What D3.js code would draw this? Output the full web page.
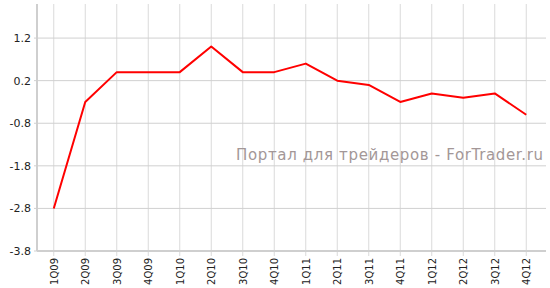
<!DOCTYPE html>
<html>
<head>
<meta charset="utf-8">
<script src="https://cdn.jsdelivr.net/npm/d3@7"></script>
<style>
  body { margin: 0; background: #fff; }
  text { font-family: "DejaVu Sans", Verdana, sans-serif; }
</style>
</head>
<body>
<div id="chart"></div>
<script>
// quarters and values
const quarters = ['1Q09', '2Q09', '3Q09', '4Q09', '1Q10', '2Q10', '3Q10', '4Q10',
  '1Q11', '2Q11', '3Q11', '4Q11', '1Q12', '2Q12', '3Q12', '4Q12'];
const values = [-2.8, -0.3, 0.4, 0.4, 0.4, 1.0, 0.4, 0.4,
  0.6, 0.2, 0.1, -0.3, -0.1, -0.2, -0.1, -0.6];
const yTicks = [-3.8, -2.8, -1.8, -0.8, 0.2, 1.2];

const width = 550, height = 288;
const plotLeft = 38, plotRight = 542, plotTop = 4, plotBottom = 251;

const svg = d3.select('#chart').append('svg')
  .attr('width', width)
  .attr('height', height);

const x = d3.scalePoint().domain(quarters).range([plotLeft, plotRight]).padding(0.5);
const y = d3.scaleLinear().domain([-3.8, 2.0]).range([plotBottom, plotTop]);

// grid
svg.append('g')
  .selectAll('line')
  .data(quarters)
  .enter().append('line')
  .attr('x1', d => x(d)).attr('x2', d => x(d))
  .attr('y1', plotTop).attr('y2', plotBottom + 5)
  .attr('stroke', '#dadada')
  .attr('stroke-width', 1);

svg.append('g')
  .selectAll('line')
  .data(yTicks)
  .enter().append('line')
  .attr('x1', plotLeft - 4).attr('x2', plotRight + 4)
  .attr('y1', d => y(d)).attr('y2', d => y(d))
  .attr('stroke', '#d0d0d0')
  .attr('stroke-width', 1);

// axis lines
svg.append('line')
  .attr('x1', plotLeft - 1).attr('x2', plotLeft - 1)
  .attr('y1', plotTop).attr('y2', plotBottom)
  .attr('stroke', '#cfcfcf').attr('stroke-width', 2);
svg.append('line')
  .attr('x1', plotLeft - 1).attr('x2', plotRight + 4)
  .attr('y1', plotBottom).attr('y2', plotBottom)
  .attr('stroke', '#cfcfcf').attr('stroke-width', 2);

// y labels
svg.append('g')
  .selectAll('text')
  .data(yTicks)
  .enter().append('text')
  .attr('x', plotLeft - 7)
  .attr('y', d => y(d) + 4)
  .attr('text-anchor', 'end')
  .attr('font-size', '11px')
  .attr('fill', '#222')
  .text(d => d.toFixed(1));

// x labels, rotated
svg.append('g')
  .selectAll('text')
  .data(quarters)
  .enter().append('text')
  .attr('transform', d => `translate(${x(d) + 4},${plotBottom + 7}) rotate(-90)`)
  .attr('text-anchor', 'end')
  .attr('font-size', '10px')
  .attr('fill', '#222')
  .text(d => d);

// watermark
svg.append('text')
  .attr('x', 236)
  .attr('y', 160)
  .attr('font-size', '15px')
  .attr('fill', '#a39797')
  .attr('textLength', 307)
  .attr('lengthAdjust', 'spacing')
  .text('Портал для трейдеров - ForTrader.ru');

// series line
const line = d3.line()
  .x((d, i) => x(quarters[i]))
  .y(d => y(d));

svg.append('path')
  .datum(values)
  .attr('d', line)
  .attr('fill', 'none')
  .attr('stroke', '#ff0000')
  .attr('stroke-width', 2)
  .attr('stroke-linejoin', 'round');
</script>
</body>
</html>
